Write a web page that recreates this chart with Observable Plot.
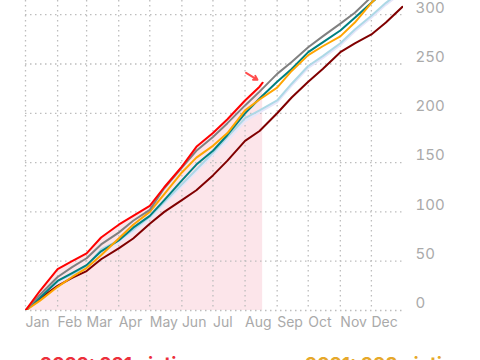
<!DOCTYPE html>
<html>
<head>
<meta charset="utf-8">
<script src="https://cdn.jsdelivr.net/npm/d3@7"></script>
<script src="https://cdn.jsdelivr.net/npm/@observablehq/plot@0.6"></script>
<style>
  html, body { margin: 0; padding: 0; background: #fff; width: 480px; height: 360px; overflow: hidden; }
  #wrap { position: relative; width: 480px; height: 360px; }
  #legend { position: absolute; top: 353px; left: 0; width: 480px; font-family: Inter, "Open Sans", sans-serif; font-weight: 700; font-size: 19px; white-space: nowrap; }
  #legend span { position: absolute; top: 0; }
</style>
</head>
<body>
<div id="wrap">
  <div id="chart"></div>
  <div id="legend"></div>
</div>
<script>
// Semi-monthly reading dates (common year)
const dates = ["01-01","01-15","02-01","02-15","03-01","03-15","04-01","04-15","05-01","05-15","06-01","06-15","07-01","07-15","08-01","08-15","09-01","09-15","10-01","10-15","11-01","11-15","12-01","12-15","12-31"];
const datesCurrent = ["01-01","01-15","02-01","02-15","03-01","03-15","04-01","04-15","05-01","05-15","06-01","06-15","07-01","07-15","08-01","08-15","08-18"];

// Cumulative values per series
const values2022 = [0,20,42,50,58,74,87,96,106,125,146,166,180,194,213,227,231];
const values2021 = [0,10,24,34,43,56,73,87,100,118,140,155,167,180,203,214,226,243,259,268,278,292,312,326,338];
const valuesGray = [0,16,34,44,53,67,79,91,102,124,145,162,176,190,208,222,240,252,267,278,291,302,318,332,345];
const valuesTeal = [0,13,30,38,46,60,71,84,96,112,132,148,162,178,200,215,232,245,262,272,284,297,312,325,338];
const valuesLightBlue = [0,14,30,37,45,62,71,82,95,110,128,143,160,176,195,203,213,230,248,258,271,285,299,312,325];
const valuesLavender = [0,12,28,36,44,58,69,80,93,108,126,141,158,172,192,201,211,228,246,256,269,283,297,310,323];
const valuesMaroon = [0,12,25,33,40,52,63,73,88,100,112,122,137,152,172,182,200,216,232,245,262,271,280,292,308];

const seriesNames = ["lavender","lightblue","maroon","teal","orange","gray","red"];
const seriesColors = ["#cdcae2","#bcd6f3","#6d1f42","#5f93a7","#e6a82a","#808080","#ec2f3b"];
const yTicks = [0,50,100,150,200,250,300];
const legendTexts = ["2022: 231 victims","2021: 338 victims"];

const parse = s => new Date(`2022-${s}T00:00:00Z`);
function rows(ds, vs, name) { return ds.map((d, i) => ({date: parse(d), value: vs[i], series: name})); }

const redRows = rows(datesCurrent, values2022, "red");
const all = [
  ...rows(dates, valuesLavender, "lavender"),
  ...rows(dates, valuesLightBlue, "lightblue"),
  ...rows(dates, valuesMaroon, "maroon"),
  ...rows(dates, valuesTeal, "teal"),
  ...rows(dates, values2021, "orange"),
  ...rows(dates, valuesGray, "gray"),
  ...redRows
];

const last = redRows[redRows.length - 1];
const arrowData = [{
  x1: d3.utcDay.offset(last.date, -16), y1: last.value + 10,
  x2: d3.utcDay.offset(last.date, -5), y2: last.value + 3
}];

const months = d3.utcMonth.range(parse("01-01"), new Date("2023-01-01T00:00:00Z"));

const chart = Plot.plot({
  width: 480,
  height: 340,
  marginLeft: 25,
  marginRight: 77,
  marginTop: 0,
  marginBottom: 30,
  style: { fontFamily: "Inter, 'Open Sans', sans-serif", background: "#fff" },
  x: { type: "utc", domain: [parse("01-01"), new Date("2023-01-01T00:00:00Z")] },
  y: { domain: [0, 314.4] },
  color: { domain: seriesNames, range: seriesColors },
  marks: [
    Plot.areaY(redRows, { x: "date", y: "value", fill: "#fce5ea" }),
    Plot.gridY(yTicks, { stroke: "#bdbdbd", strokeOpacity: 1, strokeDasharray: "1.5,3.5", strokeWidth: 1.3 }),
    Plot.gridX(months, { stroke: "#bdbdbd", strokeOpacity: 1, strokeDasharray: "1.5,3.5", strokeWidth: 1.3 }),
    Plot.line(all, { x: "date", y: "value", z: "series", stroke: "series", strokeWidth: 2, clip: true }),
    Plot.arrow(arrowData, { x1: "x1", y1: "y1", x2: "x2", y2: "y2", stroke: "#ff4d4d", strokeWidth: 2, headLength: 7, bend: 0 }),
    Plot.axisX({ ticks: months, tickFormat: "%b", tickSize: 0, tickPadding: 7, textAnchor: "start", fontSize: 14, fill: "#aaa", label: null }),
    Plot.axisY({ anchor: "right", ticks: yTicks, tickSize: 0, tickPadding: 12, textAnchor: "start", dy: -7, fontSize: 15, fill: "#aaa", label: null })
  ]
});
document.getElementById("chart").appendChild(chart);

const legend = document.getElementById("legend");
const legendColors = ["#ec2f3b", "#e6a82a"];
const legendLeft = [40, 305];
legendTexts.forEach((t, i) => {
  const s = document.createElement("span");
  s.textContent = t;
  s.style.color = legendColors[i];
  s.style.left = legendLeft[i] + "px";
  legend.appendChild(s);
});
</script>
</body>
</html>
